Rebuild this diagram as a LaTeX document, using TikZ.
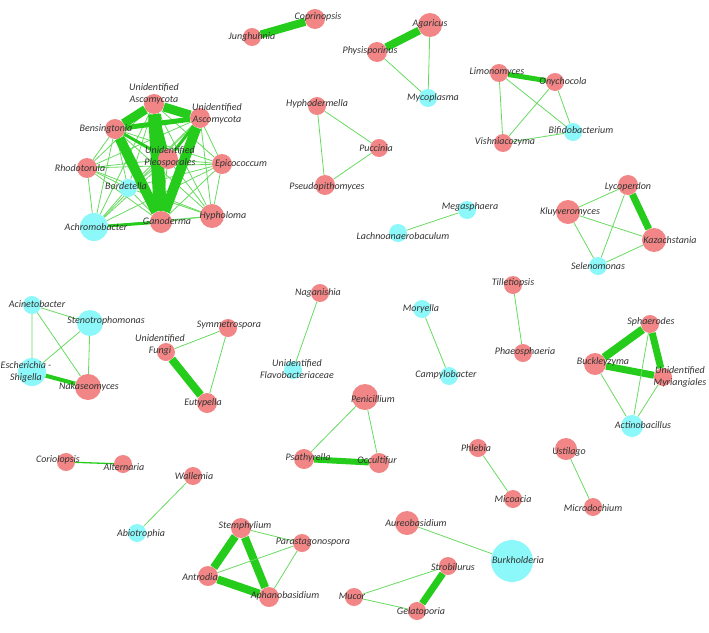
\documentclass[tikz,border=0pt]{standalone}
\usepackage{fontspec}
\setmainfont{Carlito}
\usetikzlibrary{backgrounds}

\definecolor{fungpink}{RGB}{242,134,134}
\definecolor{bactcyan}{RGB}{140,248,250}
\definecolor{linkgreen}{RGB}{38,204,28}

\begin{document}
\begin{tikzpicture}[x=1pt,y=-1pt,
		taxon/.style={shape=circle,inner sep=0pt,minimum size=#1},
		fungus/.style={taxon=#1,fill=fungpink},
		bact/.style={taxon=#1,fill=bactcyan},
		tx/.style={font=\itshape\fontsize{10}{11.5}\selectfont,align=center,inner sep=0pt,text=black!80},
		weak/.style={linkgreen!70,line width=0.8pt},
		strong/.style={linkgreen,line width=#1}]
		\useasboundingbox (0,0) rectangle (709,632);
		% big cluster
		\node(ua1)   [fungus=20, label={[tx,yshift=10]center:Unidentified\\Ascomycota}] at (154,104) {};
		\node(ua2)   [fungus=20, label={[tx,xshift=17,yshift=4]center:Unidentified\\Ascomycota}] at (200,118) {};
		\node(bens)  [fungus=20, label={[tx,xshift=-9]center:Bensingtonia}] at (115,129) {};
		\node(rhodo) [fungus=20, label={[tx,xshift=-7]center:Rhodotorula}] at (87,168) {};
		\node(uplo)  [fungus=20, label={[tx,xshift=2,yshift=2]center:Unidentified\\Pleosporales}] at (168,159) {};
		\node(epic)  [fungus=20, label={[tx,xshift=19]center:Epicococcum}] at (222,164) {};
		\node(borde) [bact=18, label={[tx,xshift=-2,yshift=2]center:Bordetella}] at (128,188) {};
		\node(achro) [bact=28, label={[tx,xshift=2]center:Achromobacter}] at (94,227) {};
		\node(gano)  [fungus=22, label={[tx,xshift=6,yshift=1]center:Ganoderma}] at (161,222) {};
		\node(hypho) [fungus=24, label={[tx,xshift=11]center:Hypholoma}] at (212,216) {};
		% top row
		\node(jung)   [fungus=18, label={[tx]center:Junghuhnia}] at (252,37) {};
		\node(copr)   [fungus=20, label={[tx,xshift=3,yshift=2]center:Coprinopsis}] at (315,19) {};
		\node(agar)   [fungus=24, label={[tx,yshift=1]center:Agaricus}] at (430,25) {};
		\node(physi)  [fungus=20, label={[tx,xshift=-7,yshift=1]center:Physisporinus}] at (377,52) {};
		\node(mycop)  [bact=18, label={[tx,xshift=5]center:Mycoplasma}] at (428,98) {};
		\node(hyphod) [fungus=18, label={[tx,yshift=2]center:Hyphodermella}] at (317,106) {};
		\node(pucc)   [fungus=18, label={[tx,xshift=-3]center:Puccinia}] at (379,148) {};
		\node(pseudo) [fungus=20, label={[tx,xshift=2,yshift=-2]center:Pseudopithomyces}] at (325,185) {};
		\node(limo)   [fungus=18, label={[tx,xshift=-2,yshift=1]center:Limonomyces}] at (499,73) {};
		\node(onych)  [fungus=18, label={[tx,xshift=8]center:Onychocola}] at (555,82) {};
		\node(bifido) [bact=18, label={[tx,xshift=8,yshift=1]center:Bifidobacterium}] at (573,132) {};
		\node(vishn)  [fungus=18, label={[tx,xshift=2,yshift=1]center:Vishniacozyma}] at (503,143) {};
		\node(megas)  [bact=18, label={[tx,xshift=3,yshift=3]center:Megasphaera}] at (467,210) {};
		\node(lachno) [bact=18, label={[tx,xshift=5,yshift=-3]center:Lachnoanaerobaculum}] at (398,233) {};
		\node(lycop)  [fungus=20, label={[tx,yshift=-2]center:Lycoperdon}] at (628,185) {};
		\node(kluyv)  [fungus=24, label={[tx,xshift=2]center:Kluyveromyces}] at (568,212) {};
		\node(kazach) [fungus=24, label={[tx,xshift=16]center:Kazachstania}] at (654,240) {};
		\node(selen)  [bact=18, label={[tx]center:Selenomonas}] at (598,266) {};
		% middle row
		\node(acine)  [bact=18, label={[tx,xshift=5,yshift=1]center:Acinetobacter}] at (32,305) {};
		\node(steno)  [bact=26, label={[tx,xshift=16,yshift=2]center:Stenotrophomonas}] at (90,323) {};
		\node(esch)   [bact=28, label={[tx,xshift=-6]center:Escherichia -\\Shigella}] at (32,372) {};
		\node(naka)   [fungus=26, label={[tx,xshift=1]center:Nakaseomyces}] at (88,387) {};
		\node(ufungi) [fungus=18, label={[tx,xshift=-6,yshift=7]center:Unidentified\\Fungi}] at (166,352) {};
		\node(symm)   [fungus=18, label={[tx,xshift=1,yshift=3]center:Symmetrospora}] at (228,328) {};
		\node(eutyp)  [fungus=20, label={[tx,xshift=-4]center:Eutypella}] at (207,403) {};
		\node(nagan)  [fungus=18, label={[tx,xshift=-2]center:Naganishia}] at (320,293) {};
		\node(uflavo) [bact=18, label={[tx,xshift=4,yshift=1]center:Unidentified\\Flavobacteriaceae}] at (293,370) {};
		\node(moryel) [bact=18, label={[tx,xshift=-1]center:Moryella}] at (422,309) {};
		\node(campy)  [bact=18, label={[tx,xshift=-3,yshift=1]center:Campylobacter}] at (449,376) {};
		\node(tillet) [fungus=18, label={[tx,yshift=2]center:Tilletiopsis}] at (513,285) {};
		\node(phaeo)  [fungus=18, label={[tx,xshift=2,yshift=1]center:Phaeosphaeria}] at (523,353) {};
		\node(sphaer) [fungus=18, label={[tx,xshift=1,yshift=2]center:Sphaerodes}] at (650,324) {};
		\node(buckl)  [fungus=22, label={[tx,xshift=8,yshift=2]center:Buckleyzyma}] at (595,364) {};
		\node(umyri)  [fungus=18, label={[tx,xshift=17]center:Unidentified\\Myriangiales}] at (663,377) {};
		\node(actino) [bact=22, label={[tx,xshift=11,yshift=1]center:Actinobacillus}] at (632,426) {};
		\node(penic)  [fungus=26, label={[tx,xshift=8,yshift=-2]center:Penicillium}] at (365,397) {};
		\node(psath)  [fungus=20, label={[tx,xshift=4,yshift=1]center:Psathyrella}] at (304,459) {};
		\node(occult) [fungus=20, label={[tx,xshift=-2,yshift=2]center:Occultifur}] at (379,463) {};
		% bottom row
		\node(corio)  [fungus=18, label={[tx,xshift=-8,yshift=2]center:Coriolopsis}] at (66,462) {};
		\node(altern) [fungus=18, label={[tx,xshift=1,yshift=-3]center:Alternaria}] at (123,464) {};
		\node(wallem) [fungus=18, label={[tx,xshift=1]center:Wallemia}] at (193,476) {};
		\node(abiot)  [bact=18, label={[tx,xshift=4,yshift=-1]center:Abiotrophia}] at (137,533) {};
		\node(phleb)  [fungus=18, label={[tx,xshift=-2]center:Phlebia}] at (478,448) {};
		\node(micoa)  [fungus=18, label={[tx]center:Micoacia}] at (513,499) {};
		\node(ustil)  [fungus=22, label={[tx,xshift=3,yshift=-3]center:Ustilago}] at (566,449) {};
		\node(microd) [fungus=18, label={[tx,yshift=-1]center:Microdochium}] at (593,507) {};
		\node(stemph) [fungus=20, label={[tx,xshift=4,yshift=2]center:Stemphylium}] at (241,528) {};
		\node(parast) [fungus=18, label={[tx,xshift=11,yshift=1]center:Parastagonospora}] at (302,543) {};
		\node(antrod) [fungus=20, label={[tx,xshift=-8,yshift=-1]center:Antrodia}] at (208,576) {};
		\node(aphano) [fungus=20, label={[tx,xshift=16,yshift=1]center:Aphanobasidium}] at (269,597) {};
		\node(mucor)  [fungus=18, label={[tx,xshift=-2,yshift=1]center:Mucor}] at (354,597) {};
		\node(aureo)  [fungus=24, label={[tx,xshift=9]center:Aureobasidium}] at (407,523) {};
		\node(burkh)  [bact=42, label={[tx,xshift=6,yshift=1]center:Burkholderia}] at (512,561) {};
		\node(strob)  [fungus=18, label={[tx,xshift=5,yshift=-1]center:Strobilurus}] at (448,566) {};
		\node(gelat)  [fungus=18, label={[tx,xshift=4,yshift=-1]center:Gelatoporia}] at (417,611) {};

		\begin{scope}[on background layer]
			% cluster: every pair linked
			\foreach \a [count=\i] in {ua1,ua2,bens,rhodo,uplo,epic,borde,achro,gano,hypho}
				\foreach \b [count=\j] in {ua1,ua2,bens,rhodo,uplo,epic,borde,achro,gano,hypho}
					{\ifnum\j>\i \draw[weak] (\a) -- (\b); \fi}
			\draw[strong=9]  (bens) -- (ua1);
			\draw[strong=9]  (ua1) -- (ua2);
			\draw[strong=5]  (bens) -- (ua2);
			\draw[strong=13] (ua1) -- (gano);
			\draw[strong=10] (bens) -- (gano);
			\draw[strong=10] (ua2) -- (gano);
			\draw[strong=4]  (ua1) -- (uplo);
			\draw[strong=3]  (bens) -- (uplo);
			\draw[strong=3]  (ua2) -- (uplo);
			\draw[strong=3]  (achro) -- (gano);
			% small groups
			\draw[strong=8] (jung) -- (copr);
			\draw[strong=8] (physi) -- (agar);
			\draw[weak] (physi) -- (mycop) (agar) -- (mycop);
			\draw[weak] (hyphod) -- (pucc) (hyphod) -- (pseudo) (pucc) -- (pseudo);
			\draw[strong=5] (limo) -- (onych);
			\draw[weak] (limo) -- (vishn) (limo) -- (bifido) (onych) -- (vishn)
				(onych) -- (bifido) (vishn) -- (bifido);
			\draw[weak] (megas) -- (lachno);
			\draw[strong=7] (lycop) -- (kazach);
			\draw[weak] (lycop) -- (kluyv) (lycop) -- (selen) (kluyv) -- (kazach)
				(kluyv) -- (selen) (kazach) -- (selen);
			\draw[weak] (acine) -- (steno) (acine) -- (esch) (acine) -- (naka)
				(steno) -- (esch) (steno) -- (naka);
			\draw[strong=4] (esch) -- (naka);
			\draw[weak] (ufungi) -- (symm) (symm) -- (eutyp);
			\draw[strong=8] (ufungi) -- (eutyp);
			\draw[weak] (nagan) -- (uflavo);
			\draw[weak] (moryel) -- (campy);
			\draw[weak] (tillet) -- (phaeo);
			\draw[strong=8] (sphaer) -- (buckl);
			\draw[strong=7] (sphaer) -- (umyri);
			\draw[strong=7] (buckl) -- (umyri);
			\draw[weak] (actino) -- (sphaer) (actino) -- (buckl) (actino) -- (umyri);
			\draw[weak] (penic) -- (psath) (penic) -- (occult);
			\draw[strong=6] (psath) -- (occult);
			\draw[strong=1.3] (corio) -- (altern);
			\draw[weak] (wallem) -- (abiot);
			\draw[weak] (phleb) -- (micoa);
			\draw[weak] (ustil) -- (microd);
			\draw[strong=8] (stemph) -- (antrod);
			\draw[strong=8] (stemph) -- (aphano);
			\draw[strong=8] (antrod) -- (aphano);
			\draw[weak] (stemph) -- (parast) (antrod) -- (parast) (parast) -- (aphano);
			\draw[weak] (aureo) -- (burkh);
			\draw[strong=7] (strob) -- (gelat);
			\draw[weak] (mucor) -- (strob) (mucor) -- (gelat);
		\end{scope}
	\end{tikzpicture}
\end{document}
